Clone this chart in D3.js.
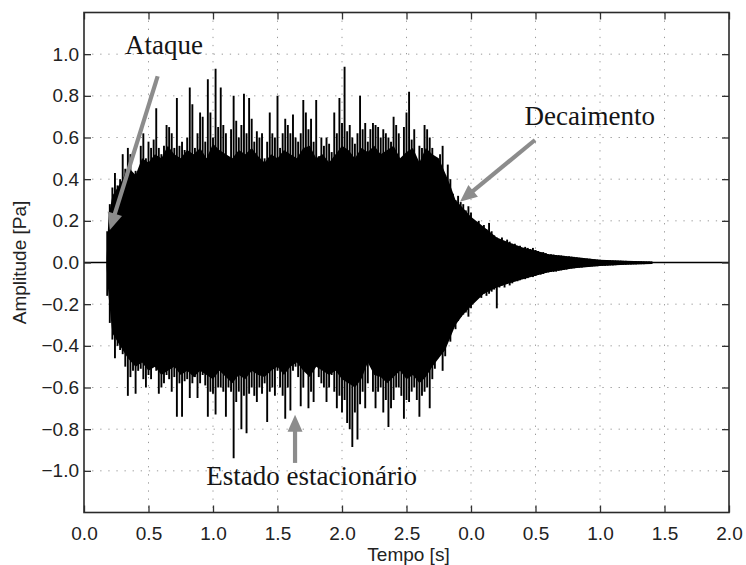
<!DOCTYPE html>
<html>
<head>
<meta charset="utf-8">
<script src="https://cdn.jsdelivr.net/npm/d3@7"></script>
<style>
  html, body { margin: 0; padding: 0; background: #fff; }
  svg { display: block; }
</style>
</head>
<body>
<svg id="chart" width="746" height="565"></svg>
<script>
// ---------------- DATA ----------------
const xTicks = [0, 0.5, 1, 1.5, 2, 2.5, 3, 3.5, 4, 4.5, 5];
const xTickLabels = ["0.0","0.5","1.0","1.5","2.0","2.5","0.0","0.5","1.0","1.5","2.0"];
const yTicks = [-1.0, -0.8, -0.6, -0.4, -0.2, 0.0, 0.2, 0.4, 0.6, 0.8, 1.0];
const yTickLabels = ["\u22121.0","\u22120.8","\u22120.6","\u22120.4","\u22120.2","0.0","0.2","0.4","0.6","0.8","1.0"];

// peak samples of the waveform, first sample at 0.18 s, one every 0.02 s
const sampleStart = 0.18;
const sampleStep = 0.02;
const upperPeaks = [
  0.15,0.28,0.36,0.43,0.37,0.40,0.52,0.45,0.55,0.52,
  0.42,0.44,0.41,0.56,0.62,0.50,0.58,0.55,0.59,0.74,
  0.55,0.52,0.56,0.66,0.65,0.62,0.55,0.79,0.56,0.58,
  0.54,0.60,0.84,0.76,0.55,0.62,0.72,0.70,0.58,0.88,
  0.72,0.60,0.93,0.65,0.84,0.66,0.62,0.50,0.64,0.80,
  0.68,0.60,0.66,0.81,0.62,0.79,0.69,0.58,0.63,0.60,
  0.62,0.50,0.58,0.72,0.62,0.60,0.80,0.55,0.62,0.69,
  0.66,0.62,0.71,0.60,0.58,0.62,0.78,0.72,0.64,0.69,
  0.58,0.78,0.51,0.60,0.56,0.60,0.57,0.53,0.72,0.62,
  0.79,0.67,0.94,0.63,0.66,0.60,0.57,0.62,0.80,0.64,
  0.67,0.58,0.64,0.67,0.66,0.65,0.60,0.64,0.62,0.60,
  0.58,0.70,0.66,0.62,0.49,0.65,0.72,0.82,0.59,0.64,
  0.44,0.56,0.55,0.66,0.64,0.60,0.55,0.50,0.44,0.52,
  0.56,0.42,0.47,0.40,0.33,0.30,0.32,0.29,0.28,0.25,
  0.27,0.24,0.20,0.19,0.20,0.17,0.18,0.16,0.19,0.15,
  0.13,0.12,0.11,0.12,0.10,0.11,0.10,0.09,0.09,0.08,
  0.08,0.07,0.075,0.07,0.065,0.07,0.06,0.055,0.05,0.05,
  0.045,0.04,0.04,0.038,0.036,0.035,0.034,0.032,0.03,0.03,
  0.028,0.027,0.025,0.023,0.022,0.02,0.019,0.018,0.016,0.015,
  0.014,0.013,0.012,0.012,0.011,0.011,0.010,0.010,0.009,0.009,
  0.008,0.008,0.007,0.007,0.007,0.006,0.006,0.006,0.005,0.005,
  0.005,0.005
];
const lowerPeaks = [
  -0.16,-0.29,-0.37,-0.46,-0.40,-0.42,-0.44,-0.50,-0.64,-0.55,
  -0.52,-0.63,-0.52,-0.51,-0.56,-0.60,-0.54,-0.56,-0.50,-0.52,
  -0.63,-0.60,-0.58,-0.54,-0.56,-0.62,-0.55,-0.74,-0.58,-0.74,
  -0.57,-0.56,-0.65,-0.58,-0.55,-0.65,-0.58,-0.54,-0.59,-0.74,
  -0.62,-0.63,-0.73,-0.60,-0.60,-0.62,-0.74,-0.60,-0.62,-0.94,
  -0.67,-0.62,-0.80,-0.64,-0.82,-0.63,-0.60,-0.64,-0.67,-0.60,
  -0.63,-0.58,-0.765,-0.62,-0.60,-0.64,-0.52,-0.60,-0.64,-0.75,
  -0.60,-0.71,-0.52,-0.50,-0.55,-0.69,-0.60,-0.52,-0.70,-0.62,
  -0.67,-0.48,-0.55,-0.58,-0.60,-0.67,-0.60,-0.54,-0.62,-0.70,
  -0.64,-0.72,-0.66,-0.77,-0.80,-0.885,-0.72,-0.85,-0.68,-0.62,
  -0.70,-0.58,-0.40,-0.62,-0.70,-0.62,-0.60,-0.72,-0.66,-0.79,
  -0.70,-0.66,-0.60,-0.60,-0.64,-0.75,-0.66,-0.67,-0.62,-0.60,
  -0.66,-0.74,-0.64,-0.62,-0.60,-0.70,-0.56,-0.51,-0.46,-0.44,
  -0.52,-0.45,-0.37,-0.38,-0.30,-0.32,-0.28,-0.26,-0.25,-0.24,
  -0.26,-0.22,-0.18,-0.17,-0.16,-0.17,-0.15,-0.16,-0.15,-0.14,
  -0.13,-0.22,-0.12,-0.11,-0.12,-0.10,-0.11,-0.10,-0.09,-0.09,
  -0.085,-0.08,-0.08,-0.075,-0.07,-0.07,-0.065,-0.06,-0.058,-0.055,
  -0.05,-0.048,-0.046,-0.045,-0.044,-0.04,-0.038,-0.036,-0.034,-0.03,
  -0.029,-0.028,-0.026,-0.025,-0.024,-0.022,-0.021,-0.02,-0.019,-0.018,
  -0.018,-0.017,-0.016,-0.016,-0.015,-0.014,-0.014,-0.013,-0.012,-0.012,
  -0.011,-0.011,-0.010,-0.010,-0.009,-0.009,-0.008,-0.008,-0.008,-0.007,
  -0.007,-0.007
];

// solid body of the waveform (dense oscillation region)
const bodyTimes = [0.175,0.19,0.22,0.26,0.30,0.34,0.40,0.45,0.5,0.55,0.6,0.65,0.7,0.75,0.8,0.85,0.9,0.95,1.0,1.05,1.1,1.15,1.2,1.25,1.3,1.35,1.4,1.45,1.5,1.55,1.6,1.65,1.7,1.75,1.8,1.85,1.9,1.95,2.0,2.05,2.1,2.15,2.2,2.25,2.3,2.35,2.4,2.45,2.5,2.55,2.6,2.65,2.7,2.75,2.8,2.84,2.88,2.94,3.0,3.1,3.2,3.3,3.4,3.5,3.6,3.8,4.0,4.2,4.4];
const bodyUpper = [0.02,0.22,0.32,0.36,0.40,0.46,0.42,0.50,0.48,0.52,0.50,0.56,0.52,0.50,0.54,0.52,0.55,0.50,0.57,0.54,0.52,0.50,0.54,0.52,0.55,0.51,0.48,0.52,0.50,0.54,0.52,0.50,0.55,0.56,0.50,0.52,0.48,0.52,0.56,0.54,0.50,0.55,0.53,0.56,0.52,0.54,0.56,0.50,0.53,0.55,0.48,0.55,0.52,0.50,0.43,0.37,0.30,0.26,0.22,0.17,0.12,0.095,0.072,0.058,0.04,0.026,0.013,0.008,0.005];
const bodyLower = [-0.02,-0.16,-0.34,-0.38,-0.42,-0.46,-0.50,-0.48,-0.52,-0.50,-0.54,-0.52,-0.50,-0.54,-0.52,-0.55,-0.52,-0.54,-0.56,-0.52,-0.55,-0.58,-0.54,-0.56,-0.52,-0.54,-0.55,-0.52,-0.50,-0.54,-0.50,-0.48,-0.52,-0.55,-0.50,-0.52,-0.54,-0.52,-0.56,-0.58,-0.60,-0.56,-0.48,-0.54,-0.55,-0.58,-0.55,-0.52,-0.56,-0.54,-0.58,-0.55,-0.50,-0.46,-0.42,-0.36,-0.30,-0.25,-0.21,-0.15,-0.12,-0.10,-0.08,-0.063,-0.047,-0.028,-0.017,-0.011,-0.007];

// annotations (data units)
const annotations = [
  { text: "Ataque", tx: 0.62, ty: 1.0, from: [0.571, 0.894], to: [0.20, 0.156] },
  { text: "Decaimento", tx: 3.92, ty: 0.66, from: [3.496, 0.588], to: [2.915, 0.292] },
  { text: "Estado estacion\u00e1rio", tx: 1.764, ty: -1.067, from: [1.636, -0.962], to: [1.636, -0.731] }
];

// ---------------- CHART ----------------
const svg = d3.select("#chart");
const L = 84, R = 729, T = 12.5, B = 512.5;
const x = d3.scaleLinear().domain([0, 5]).range([L, R]);
const y = d3.scaleLinear().domain([-1.2, 1.2]).range([B, T]);

svg.append("rect").attr("width", 746).attr("height", 565).attr("fill", "#fff");

// grid
const grid = svg.append("g").attr("stroke", "#9a9a9a").attr("stroke-width", 1).attr("stroke-dasharray", "1.3 6.8");
grid.selectAll("line.gx").data(xTicks.slice(1, -1)).join("line")
  .attr("x1", d => x(d)).attr("x2", d => x(d)).attr("y1", T).attr("y2", B);
grid.selectAll("line.gy").data(yTicks).join("line")
  .attr("x1", L).attr("x2", R).attr("y1", d => y(d)).attr("y2", d => y(d));

// zero line
svg.append("line").attr("x1", x(0)).attr("x2", x(5)).attr("y1", y(0)).attr("y2", y(0))
  .attr("stroke", "#000").attr("stroke-width", 1.6);

// body
const bodyArea = d3.area()
  .x((d, i) => x(bodyTimes[i]))
  .y0((d, i) => y(bodyLower[i]))
  .y1((d, i) => y(bodyUpper[i]));
svg.append("path").datum(bodyTimes).attr("d", bodyArea).attr("fill", "#000");

// spikes
const sampleTimes = upperPeaks.map((_, i) => sampleStart + i * sampleStep);
svg.append("g").attr("stroke", "#000").attr("stroke-width", 1.9)
  .selectAll("line").data(sampleTimes).join("line")
  .attr("x1", d => x(d)).attr("x2", d => x(d))
  .attr("y1", (d, i) => y(upperPeaks[i]))
  .attr("y2", (d, i) => y(lowerPeaks[i]));

// annotations
const ann = svg.append("g");
annotations.forEach(a => {
  const x1 = x(a.from[0]), y1 = y(a.from[1]);
  const x2 = x(a.to[0]), y2 = y(a.to[1]);
  const ang = Math.atan2(y2 - y1, x2 - x1);
  const headL = 17, headW = 7.5;
  const bx = x2 - headL * Math.cos(ang), by = y2 - headL * Math.sin(ang);
  ann.append("line").attr("x1", x1).attr("y1", y1).attr("x2", bx + 2 * Math.cos(ang)).attr("y2", by + 2 * Math.sin(ang))
    .attr("stroke", "#8c8c8c").attr("stroke-width", 4.2);
  const px = -Math.sin(ang), py = Math.cos(ang);
  ann.append("path")
    .attr("d", `M${x2},${y2}L${bx + headW * px},${by + headW * py}L${bx - headW * px},${by - headW * py}Z`)
    .attr("fill", "#8c8c8c");
  ann.append("text").attr("x", x(a.tx)).attr("y", y(a.ty))
    .attr("text-anchor", "middle")
    .attr("font-family", "'Liberation Serif', 'Times New Roman', serif")
    .attr("font-size", 27).attr("fill", "#151515")
    .text(a.text);
});

// axes
const tickFont = "'Liberation Sans', Arial, Helvetica, sans-serif";
const xAxis = svg.append("g").attr("transform", `translate(0,${B})`)
  .call(d3.axisBottom(x).tickValues(xTicks).tickFormat((d, i) => xTickLabels[i]).tickSizeInner(-7).tickSizeOuter(0).tickPadding(14));
const yAxis = svg.append("g").attr("transform", `translate(${L},0)`)
  .call(d3.axisLeft(y).tickValues(yTicks).tickFormat((d, i) => yTickLabels[i]).tickSizeInner(-7).tickSizeOuter(0).tickPadding(5));
const xAxisTop = svg.append("g").attr("transform", `translate(0,${T})`)
  .call(d3.axisTop(x).tickValues(xTicks).tickFormat("").tickSizeInner(-7).tickSizeOuter(0));
const yAxisRight = svg.append("g").attr("transform", `translate(${R},0)`)
  .call(d3.axisRight(y).tickValues(yTicks).tickFormat("").tickSizeInner(-7).tickSizeOuter(0));
[xAxis, yAxis, xAxisTop, yAxisRight].forEach(g => {
  g.select(".domain").remove();
  g.selectAll(".tick line").attr("stroke", "#333").attr("stroke-width", 1.3);
  g.selectAll(".tick text").attr("font-family", tickFont).attr("font-size", 19).attr("fill", "#222");
});

svg.append("rect").attr("x", L).attr("y", T).attr("width", R - L).attr("height", B - T)
  .attr("fill", "none").attr("stroke", "#2a2a2a").attr("stroke-width", 1.6);

// axis titles
svg.append("text").attr("x", (L + R) / 2 + 2).attr("y", 561)
  .attr("text-anchor", "middle").attr("font-family", tickFont).attr("font-size", 19).attr("fill", "#222")
  .text("Tempo [s]");
svg.append("text").attr("transform", `translate(26,${(T + B) / 2}) rotate(-90)`)
  .attr("text-anchor", "middle").attr("font-family", tickFont).attr("font-size", 19).attr("fill", "#222")
  .text("Amplitude [Pa]");
</script>
</body>
</html>
